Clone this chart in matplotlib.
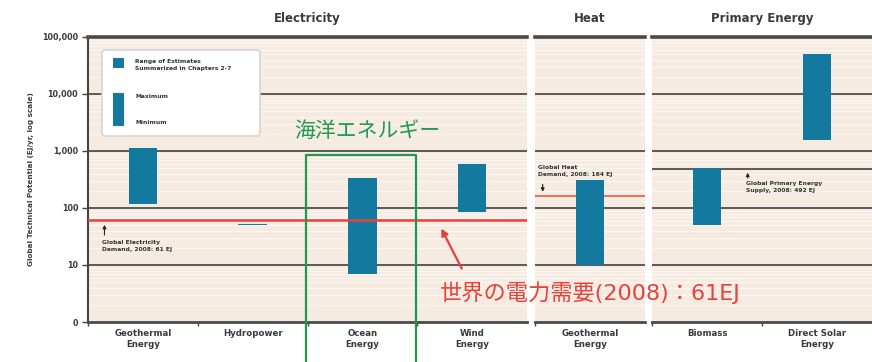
import matplotlib
matplotlib.use("Agg")
import matplotlib.pyplot as plt
from matplotlib.patches import FancyBboxPatch, Rectangle, FancyArrowPatch
from matplotlib.lines import Line2D
import numpy as np

plt.rcParams['font.family'] = ['DejaVu Sans', 'Noto Sans CJK JP']

# ---- data (EJ/yr) ----
elec_cats = ["Geothermal\nEnergy", "Hydropower", "Ocean\nEnergy", "Wind\nEnergy"]
elec_min = [118, 50, 7, 85]
elec_max = [1109, 52, 331, 580]

heat_cats = ["Geothermal\nEnergy"]
heat_min = [10]
heat_max = [312]

prim_cats = ["Biomass", "Direct Solar\nEnergy"]
prim_min = [50, 1575]
prim_max = [500, 49837]

elec_demand = 61
heat_demand = 164
primary_supply = 492

y_ticks = [1, 10, 100, 1000, 10000, 100000]
y_ticklabels = ["0", "10", "100", "1,000", "10,000", "100,000"]

# ---- style ----
W, H = 872, 362
BAR = "#14799e"
BG = "#f6ebe1"
GRID = "#5a5a5a"
RED = "#e8413a"
GREEN = "#1f9a4c"
TXT = "#3a3a3a"
JP = ["Noto Sans CJK JP", "DejaVu Sans"]

fig = plt.figure(figsize=(W / 100, H / 100), dpi=100)
fig.patch.set_facecolor("white")


def fx(x):
    return x / W


def fy(y):
    return 1 - y / H


def panel(x0, x1, cats, lo, hi, title, left=False):
    ax = fig.add_axes([fx(x0), fy(322), fx(x1) - fx(x0), (322 - 37) / H])
    ax.set_facecolor(BG)
    ax.set_yscale("log")
    ax.set_ylim(1, 100000)
    n = len(cats)
    ax.set_xlim(0, n)
    # light stripes inside each decade
    for d in [1, 10, 100, 1000, 10000]:
        for m in range(2, 10):
            ax.axhline(d * m, color="white", lw=0.9, alpha=0.6, zorder=0)
    for t in y_ticks[1:-1]:
        ax.axhline(t, color=GRID, lw=1.4, zorder=1)
    pos = np.arange(n) + 0.5
    ax.bar(pos, np.array(hi) - np.array(lo), bottom=lo, width=0.26,
           color=BAR, zorder=3)
    ax.spines["right"].set_visible(False)
    ax.spines["left"].set_visible(left)
    ax.spines["left"].set_color("#444444")
    ax.spines["left"].set_linewidth(1.5)
    ax.spines["top"].set_color("#4a4a4a")
    ax.spines["top"].set_linewidth(2.6)
    ax.spines["bottom"].set_color("#4a4a4a")
    ax.spines["bottom"].set_linewidth(2.0)
    ax.set_xticks(np.arange(n))
    ax.set_xticklabels([])
    ax.tick_params(axis="x", which="major", length=3, width=1, color="#4a4a4a")
    ax.set_xticks(pos, minor=True)
    ax.set_xticklabels(cats, minor=True, fontsize=6.2, fontweight="bold",
                       color=TXT, linespacing=1.25)
    ax.tick_params(axis="x", which="minor", length=0, pad=5)
    ax.set_title(title, fontsize=8.5, fontweight="bold", color=TXT, pad=11)
    if left:
        ax.set_yticks(y_ticks)
        ax.set_yticklabels(y_ticklabels, fontsize=5.8, fontweight="bold",
                           color=TXT)
        ax.tick_params(axis="y", which="major", length=4, width=1,
                       color="#444444", pad=3)
        ax.tick_params(axis="y", which="minor", length=0)
    else:
        ax.set_yticks([])
        ax.tick_params(axis="y", which="minor", length=0)
    return ax


ax_e = panel(88, 527, elec_cats, elec_min, elec_max, "Electricity", left=True)
ax_h = panel(535, 645, heat_cats, heat_min, heat_max, "Heat")
ax_p = panel(652, 872, prim_cats, prim_min, prim_max, "Primary Energy")

ax_e.set_ylabel("Global Technical Potential (EJ/yr, log scale)", fontsize=5.2,
                fontweight="bold", color=TXT, labelpad=6)

# demand / supply reference lines
ax_e.axhline(elec_demand, color=RED, lw=1.8, zorder=4)
ax_h.axhline(heat_demand, color=RED, lw=1.2, alpha=0.85, zorder=2)
ax_p.axhline(primary_supply, color=GRID, lw=1.4, zorder=1)

small = dict(fontsize=4.3, fontweight="bold", color="#333333", linespacing=1.5)
ax_e.text(0.13, 27, "Global Electricity\nDemand, 2008: 61 EJ", ha="left",
          va="top", zorder=5, **small)
ax_e.annotate("", xy=(0.15, elec_demand * 0.93), xytext=(0.15, 30),
              arrowprops=dict(arrowstyle="-|>", color="#222222", lw=0.8,
                              mutation_scale=5), zorder=5)

ax_h.text(0.03, 560, "Global Heat\nDemand, 2008: 164 EJ", ha="left", va="top",
          zorder=5, **small)
ax_h.annotate("", xy=(0.07, heat_demand * 1.05), xytext=(0.07, 290),
              arrowprops=dict(arrowstyle="-|>", color="#222222", lw=0.8,
                              mutation_scale=5), zorder=5)

ax_p.text(0.85, 300, "Global Primary Energy\nSupply, 2008: 492 EJ", ha="left",
          va="top", zorder=5, **small)
ax_p.annotate("", xy=(0.87, primary_supply * 0.95), xytext=(0.87, 300),
              arrowprops=dict(arrowstyle="-|>", color="#222222", lw=0.8,
                              mutation_scale=5), zorder=5)

# legend box
lg = fig.add_axes([fx(100), fy(138), fx(262) - fx(100), (138 - 48) / H])
lg.set_xlim(0, 162)
lg.set_ylim(90, 0)
lg.axis("off")
lg.set_zorder(10)
lg.add_patch(FancyBboxPatch((2, 2), 158, 86, boxstyle="round,pad=0,rounding_size=3",
                            facecolor="white", edgecolor="#d5d5d5", lw=1.2))
lg.add_patch(Rectangle((13, 10), 11, 10, facecolor=BAR, edgecolor="none"))
lg.text(35, 11, "Range of Estimates\nSummarized in Chapters 2-7", va="top",
        ha="left", **small)
lg.add_patch(Rectangle((13, 45), 11, 33, facecolor=BAR, edgecolor="none"))
lg.text(35, 48, "Maximum", va="center", ha="left", **small)
lg.text(35, 74, "Minimum", va="center", ha="left", **small)

# ocean energy highlight
fig.add_artist(Line2D([fx(306), fx(306), fx(416), fx(416)],
                      [fy(365), fy(155), fy(155), fy(365)],
                      color=GREEN, lw=1.6, zorder=20))
fig.text(fx(294), fy(131), "海洋エネルギー", fontsize=15, color=GREEN,
         family=JP, ha="left", va="center", zorder=20)

# world electricity demand callout
fig.add_artist(FancyArrowPatch((fx(463), fy(271)), (fx(440), fy(226)),
                               transform=fig.transFigure, arrowstyle="-|>",
                               mutation_scale=10, color=RED, lw=1.6, zorder=20))
fig.text(fx(440), fy(293), "世界の電力需要(2008)：61EJ", fontsize=16,
         color=RED, family=["DejaVu Sans", "Noto Sans CJK JP"], ha="left",
         va="center", zorder=20)

fig.savefig("out.png", dpi=100, facecolor="white")
